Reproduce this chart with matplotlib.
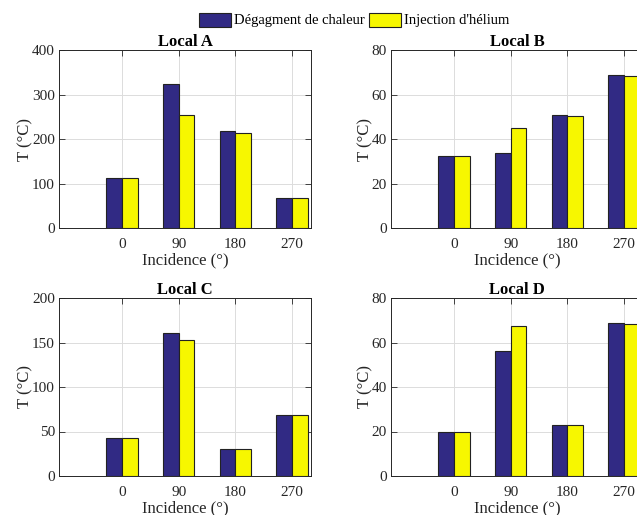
import matplotlib
matplotlib.use("Agg")
import matplotlib.pyplot as plt
import numpy as np

plt.rcParams["font.family"] = ["Liberation Serif", "DejaVu Serif"]

incidences = [0, 90, 180, 270]
series_names = ["Dégagment de chaleur", "Injection d'hélium"]
panel_titles = ["Local A", "Local B", "Local C", "Local D"]
ylims = [400, 80, 200, 80]
yticks = [[0, 100, 200, 300, 400], [0, 20, 40, 60, 80],
          [0, 50, 100, 150, 200], [0, 20, 40, 60, 80]]

# dégagement de chaleur / injection d'hélium per local
local_a_heat = [113, 324, 218, 68]
local_a_helium = [113, 253, 214, 68]
local_b_heat = [32.2, 33.8, 50.6, 68.8]
local_b_helium = [32.3, 44.8, 50.5, 68.4]
local_c_heat = [42.7, 160.7, 30, 68.5]
local_c_helium = [43, 152.8, 30, 68.5]
local_d_heat = [19.9, 56, 23, 68.6]
local_d_helium = [19.9, 67.6, 23, 68.4]

heat = [local_a_heat, local_b_heat, local_c_heat, local_d_heat]
helium = [local_a_helium, local_b_helium, local_c_helium, local_d_helium]

BLUE = "#312A84"
YELLOW = "#F7F700"
W, H = 637, 515

fig = plt.figure(figsize=(W / 100, H / 100), dpi=100)
# axes boxes in pixels: left, top, right, bottom
boxes = [(59, 50, 311, 228), (391, 50, 643, 228),
         (59, 298, 311, 476), (391, 298, 643, 476)]

bw = 25
x = np.array(incidences, dtype=float)
for i, (l, t, r, b) in enumerate(boxes):
    ax = fig.add_axes([l / W, 1 - b / H, (r - l) / W, (b - t) / H])
    ax.bar(x - bw / 2, heat[i], width=bw, color=BLUE, edgecolor="#222222",
           linewidth=0.8, zorder=3, label=series_names[0])
    ax.bar(x + bw / 2, helium[i], width=bw, color=YELLOW, edgecolor="#222222",
           linewidth=0.8, zorder=3, label=series_names[1])
    ax.set_xlim(-100, 300)
    ax.set_ylim(0, ylims[i])
    ax.set_xticks(incidences)
    ax.set_yticks(yticks[i])
    ax.grid(True, color="#DCDCDC", linewidth=0.7, zorder=0)
    ax.tick_params(direction="in", top=True, right=True, length=4,
                   labelsize=11, colors="#262626", width=0.6)
    ax.tick_params(axis="x", pad=7)
    ax.tick_params(axis="y", pad=3)
    for sp in ax.spines.values():
        sp.set_color("#262626")
        sp.set_linewidth(0.7)
    ax.set_title(panel_titles[i], fontsize=12, fontweight="bold", pad=3)
    ax.set_xlabel("Incidence (°)", fontsize=12, labelpad=1, color="#262626")
    ax.set_ylabel("T (°C)", fontsize=12, labelpad=-1, color="#262626")
    if i == 0:
        handles, labels = ax.get_legend_handles_labels()

fig.legend(handles, labels, loc="center", bbox_to_anchor=(354 / W, 1 - 20 / H),
           ncol=2, frameon=False, fontsize=10.5, handlelength=2.2,
           handleheight=1.1, handletextpad=0.2, columnspacing=0.3,
           borderpad=0.1)

fig.savefig("out.png", dpi=100)
